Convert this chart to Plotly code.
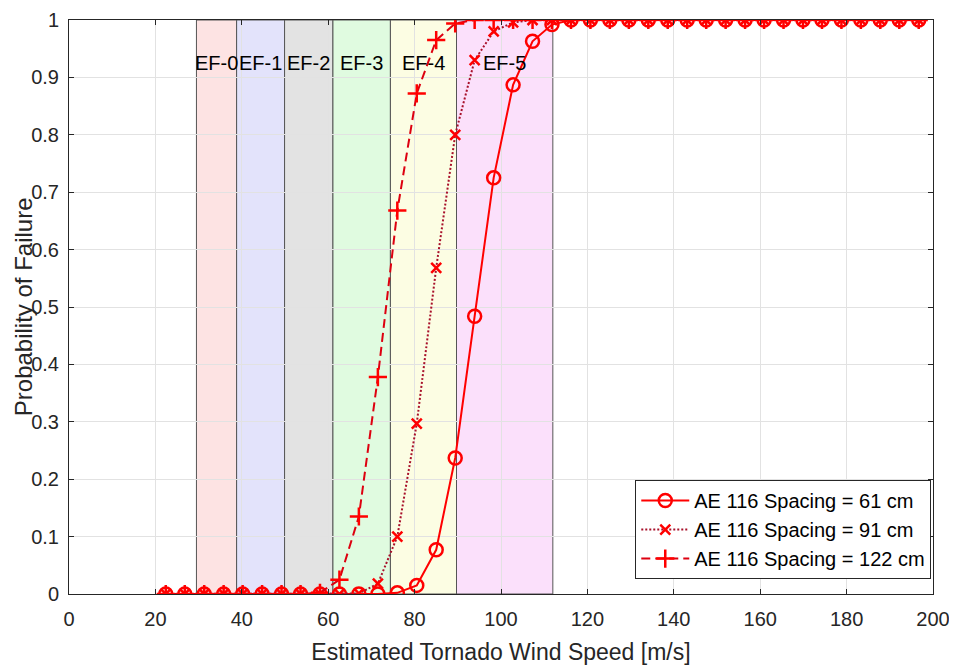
import plotly.graph_objects as go

# wind speed samples [m/s]
speed = [22.4, 26.8, 31.3, 35.8, 40.2, 44.7, 49.2, 53.6, 58.1, 62.6,
         67.1, 71.5, 76.0, 80.5, 85.0, 89.4, 93.9, 98.3, 102.8, 107.3,
         111.8, 116.2, 120.7, 125.2, 129.6, 134.1, 138.6, 143.1, 147.5, 152.0,
         156.5, 160.9, 165.4, 169.9, 174.3, 178.8, 183.3, 187.8, 192.2, 196.7]

pf_61 = [0] * 12 + [0.002, 0.015, 0.077, 0.237, 0.484, 0.725, 0.887, 0.963, 0.992] + [1] * 19
pf_91 = [0] * 10 + [0.001, 0.018, 0.10, 0.297, 0.568, 0.80, 0.93, 0.98, 0.996] + [1] * 21
pf_122 = [0] * 8 + [0.002, 0.025, 0.135, 0.378, 0.668, 0.872, 0.965, 0.994] + [1] * 24

ef_names = ["EF-0", "EF-1", "EF-2", "EF-3", "EF-4", "EF-5"]
ef_edges = [29.5, 38.8, 49.9, 61.1, 74.4, 89.7, 112.0]
ef_colors = ["#fde3e3", "#e3e3fb", "#e3e3e3", "#e0fbe0", "#fcfde3", "#fbe0fb"]

fig = go.Figure()

for i, name in enumerate(ef_names):
    fig.add_shape(type="rect", xref="x", yref="y",
                  x0=ef_edges[i], x1=ef_edges[i + 1], y0=0, y1=1,
                  fillcolor=ef_colors[i], line=dict(color="#555555", width=1),
                  layer="below")
    fig.add_annotation(x=(ef_edges[i] + ef_edges[i + 1]) / 2, y=0.925,
                       text=name, showarrow=False,
                       font=dict(size=20, color="#000000"))

fig.add_trace(go.Scatter(
    x=speed, y=pf_61, name="AE 116 Spacing = 61 cm", mode="lines+markers",
    line=dict(color="#ff0000", width=2),
    marker=dict(symbol="circle-open", size=13, color="#ff0000", line=dict(width=2.5))))
fig.add_trace(go.Scatter(
    x=speed, y=pf_91, name="AE 116 Spacing = 91 cm", mode="lines+markers",
    line=dict(color="#a8102a", width=2, dash="2px,2px"),
    marker=dict(symbol="x-thin-open", size=10, color="#ff0000", line=dict(width=2.5))))
fig.add_trace(go.Scatter(
    x=speed, y=pf_122, name="AE 116 Spacing = 122 cm", mode="lines+markers",
    line=dict(color="#dd0010", width=2, dash="9px,5px"),
    marker=dict(symbol="cross-thin-open", size=13, color="#ff0000", line=dict(width=2.5))))

axis_style = dict(showline=True, linecolor="#262626", linewidth=1, mirror="ticks",
                  ticks="inside", ticklen=5, tickcolor="#262626",
                  showgrid=True, gridcolor="#e2e2e2", gridwidth=1, zeroline=False,
                  automargin=False, tickfont=dict(size=20, color="#262626"))

fig.update_xaxes(range=[0, 200], dtick=20, ticklabelstandoff=7, **axis_style,
                 title=dict(text="Estimated Tornado Wind Speed [m/s]",
                            font=dict(size=23, color="#262626"), standoff=14))
fig.update_yaxes(range=[0, 1], dtick=0.1, tickformat="~g", ticklabelstandoff=5, **axis_style)

# y title as a rotated annotation so it can sit close to the page edge
fig.add_annotation(xref="paper", yref="paper", x=-0.053, y=0.5,
                   text="Probability of Failure", textangle=-90, showarrow=False,
                   xanchor="center", yanchor="middle",
                   font=dict(size=24, color="#262626"))

# page body adds an 8px offset, so the figure is 8px smaller
fig.update_layout(
    width=949, height=660,
    margin=dict(l=61, r=24, t=12, b=74),
    plot_bgcolor="white", paper_bgcolor="white",
    font=dict(family="Liberation Sans, Arial, sans-serif"),
    showlegend=True,
    legend=dict(x=0.998, y=0.026, xanchor="right", yanchor="bottom",
                bgcolor="white", bordercolor="#262626", borderwidth=1,
                font=dict(size=20, color="#000000"), tracegroupgap=0,
                itemwidth=48),
)

fig.write_html("out.html")
